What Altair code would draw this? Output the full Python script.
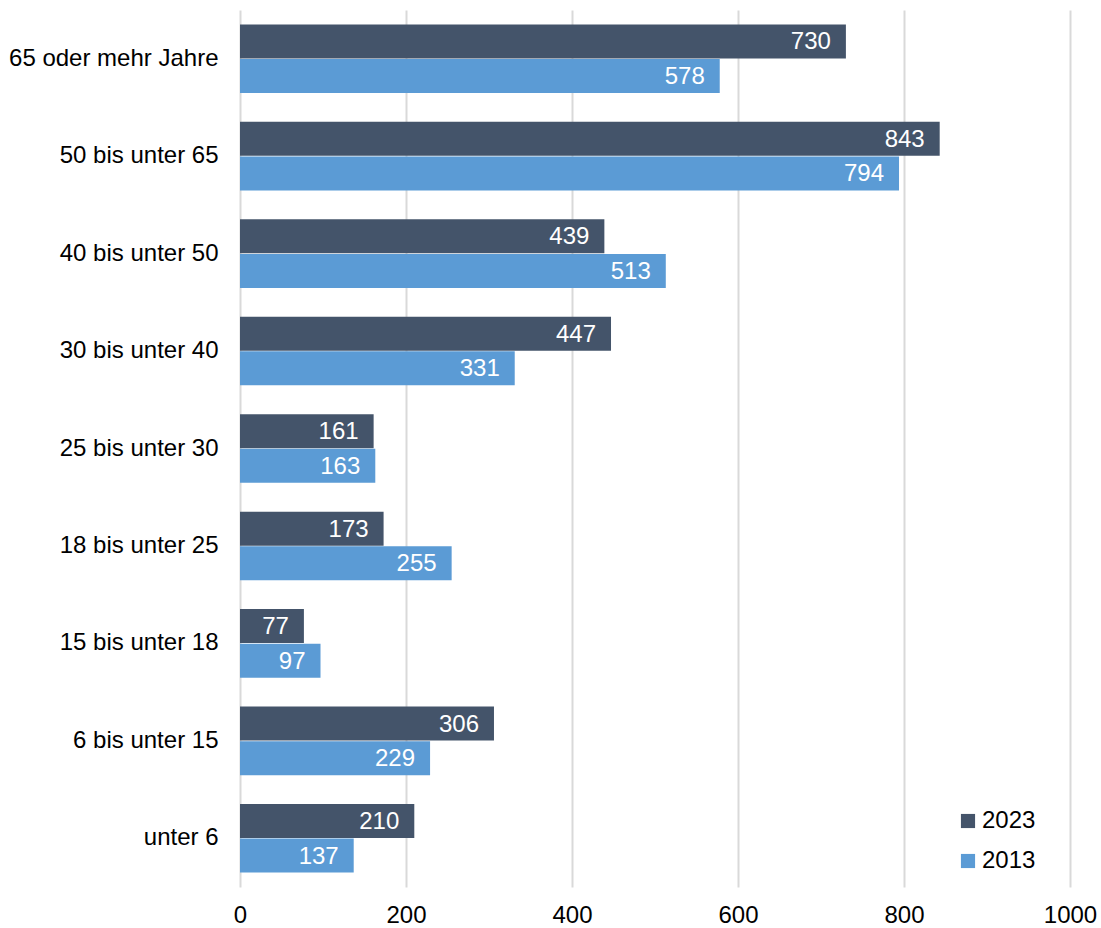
import altair as alt
import pandas as pd

categories = ["65 oder mehr Jahre", "50 bis unter 65", "40 bis unter 50", "30 bis unter 40",
              "25 bis unter 30", "18 bis unter 25", "15 bis unter 18", "6 bis unter 15", "unter 6"]
values_2023 = [730, 843, 439, 447, 161, 173, 77, 306, 210]
values_2013 = [578, 794, 513, 331, 163, 255, 97, 229, 137]
series = ["2023", "2013"]
colors = ["#44546A", "#5B9BD5"]

rows = []
for c, a, b in zip(categories, values_2023, values_2013):
    rows.append({"cat": c, "year": "2023", "value": a})
    rows.append({"cat": c, "year": "2013", "value": b})
df = pd.DataFrame(rows)

FONT = "Liberation Sans"
FS = 24

y = alt.Y("cat:N", sort=categories, title=None,
          scale=alt.Scale(paddingInner=0.29, paddingOuter=0.145),
          axis=alt.Axis(labelFontSize=FS, labelFont=FONT, labelColor="#000000", labelLimit=400,
                        ticks=False, domain=False, labelPadding=22, grid=False))
x = alt.X("value:Q", title=None,
          scale=alt.Scale(domain=[0, 1000]),
          axis=alt.Axis(values=[0, 200, 400, 600, 800, 1000], format="d", labelFontSize=FS,
                        labelFont=FONT, labelColor="#000000", ticks=False, domain=False,
                        labelFlush=False, labelPadding=16, grid=True, gridColor="#D9D9D9",
                        gridWidth=2))
yoff = alt.YOffset("year:N", sort=series, scale=alt.Scale(paddingInner=0, paddingOuter=0))

bars = alt.Chart(df).mark_bar(size=34).encode(
    y=y, x=x, yOffset=yoff,
    color=alt.Color("year:N", sort=series,
                    scale=alt.Scale(domain=series, range=colors),
                    legend=alt.Legend(title=None, orient="none", legendX=716, legendY=799,
                                      symbolType="square", symbolSize=200, symbolStrokeWidth=0,
                                      labelFontSize=FS, labelFont=FONT, labelColor="#000000",
                                      rowPadding=16, labelOffset=2))
)

labels = alt.Chart(df).mark_text(align="right", baseline="middle", dx=-15, dy=1, fontSize=FS,
                                 font=FONT, color="white").encode(
    y=alt.Y("cat:N", sort=categories), x="value:Q", yOffset=yoff, text="value:Q"
)

chart = (bars + labels).properties(
    width=830, height=877,
    autosize=alt.AutoSizeParams(type="none"),
    padding={"left": 240, "top": 10, "right": 31, "bottom": 41},
).configure_view(stroke=None)

chart.save("out.html", embed_options={"renderer": "svg", "actions": False})
